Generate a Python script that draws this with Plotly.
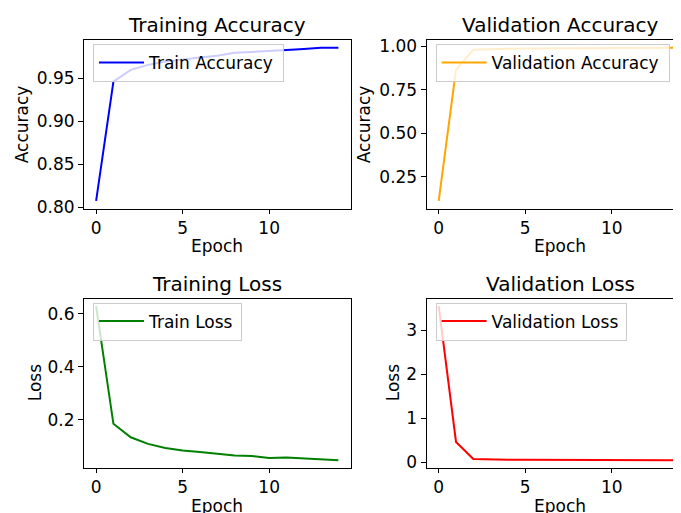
import plotly.graph_objects as go

epochs = list(range(15))
train_acc = [0.8077, 0.946, 0.9597, 0.9655, 0.9693, 0.972, 0.974, 0.976, 0.9797, 0.9805, 0.982, 0.9828, 0.984, 0.9854, 0.9855]
val_acc = [0.1126, 0.865, 0.979, 0.984, 0.985, 0.986, 0.987, 0.988, 0.988, 0.989, 0.989, 0.990, 0.990, 0.991, 0.991]
train_loss = [0.628, 0.185, 0.1343, 0.1094, 0.0943, 0.0842, 0.0792, 0.0728, 0.0653, 0.064, 0.0566, 0.0577, 0.054, 0.0502, 0.0476]
val_loss = [3.545, 0.463, 0.075, 0.062, 0.058, 0.056, 0.055, 0.053, 0.052, 0.052, 0.050, 0.049, 0.048, 0.047, 0.046]

titles = ["Training Accuracy", "Validation Accuracy", "Training Loss", "Validation Loss"]
legend_names = ["Train Accuracy", "Validation Accuracy", "Train Loss", "Validation Loss"]
ylabels = ["Accuracy", "Accuracy", "Loss", "Loss"]
colors = ["blue", "orange", "green", "red"]
xtick_vals = [0, 5, 10]
ytick_vals = [[0.80, 0.85, 0.90, 0.95], [0.25, 0.50, 0.75, 1.00], [0.2, 0.4, 0.6], [0, 1, 2, 3]]
ytick_fmt = [".2f", ".2f", ".1f", "d"]

PAGE_W, PAGE_H = 681, 513
OFF = 8  # default body margin of the html page
W, H = PAGE_W - OFF, PAGE_H - OFF
FONT = "DejaVu Sans"
TICK = 17
TITLE = 20

# pixel geometry (page coords) of the panels (left, right, top, bottom, centre)
panels = [
    (84.0, 350.5, 40.0, 208.5, 217.0),
    (426.6, 681.0, 40.0, 208.5, 560.0),
    (84.0, 350.5, 298.5, 468.0, 217.0),
    (426.6, 681.0, 298.5, 468.0, 560.0),
]
legend_w = [190, 233, 148, 190]
ylabel_x = [22, 364, 35, 393]
px_per_epoch = (350.5 - 84.0) / 15.4

def px(x):
    return (x - OFF) / W

def py(y):
    return 1 - (y - OFF) / H

series = [train_acc, val_acc, train_loss, val_loss]

fig = go.Figure()
annotations = []
layout = dict(
    width=W, height=H, margin=dict(l=0, r=0, t=0, b=0, autoexpand=False),
    paper_bgcolor="white", plot_bgcolor="white",
    font=dict(family=FONT, size=TICK, color="black"),
    showlegend=True,
)

for i, (vals, name, color) in enumerate(zip(series, legend_names, colors)):
    ax = "" if i == 0 else str(i + 1)
    lg = "legend" if i == 0 else f"legend{i + 1}"
    fig.add_trace(go.Scatter(
        x=epochs, y=vals, mode="lines", name=name,
        line=dict(color=color, width=2),
        xaxis="x" + ax, yaxis="y" + ax, legend=lg,
    ))
    l, r, t, b, cx = panels[i]
    lo, hi = min(vals), max(vals)
    m = (hi - lo) * 0.05
    xmin = -0.7
    xmax = xmin + (r - l) / px_per_epoch
    layout["xaxis" + ax] = dict(
        domain=[px(l), px(r)], anchor="y" + ax, range=[xmin, xmax],
        tickvals=xtick_vals, ticks="outside", ticklen=4, tickwidth=1,
        tickcolor="black", showline=True, linecolor="black", linewidth=1,
        mirror=True, showgrid=False, zeroline=False, automargin=False,
        tickfont=dict(family=FONT, size=TICK, color="black"),
    )
    layout["yaxis" + ax] = dict(
        domain=[py(b), py(t)], anchor="x" + ax, range=[lo - m, hi + m],
        tickvals=ytick_vals[i], tickformat=ytick_fmt[i], ticks="outside",
        ticklen=5, tickwidth=1, tickcolor="black", showline=True,
        linecolor="black", linewidth=1, mirror=(i % 2 == 0),
        showgrid=False, zeroline=False, automargin=False,
        tickfont=dict(family=FONT, size=TICK, color="black"),
    )
    layout[lg] = dict(
        x=px(l + 9), y=py(t + 4), xanchor="left", yanchor="top",
        orientation="h", entrywidth=legend_w[i] - 61, entrywidthmode="pixels",
        bgcolor="rgba(255,255,255,0.8)", bordercolor="#cccccc", borderwidth=1,
        itemwidth=45,
        font=dict(family=FONT, size=TICK, color="black"),
    )
    # subplot title
    annotations.append(dict(
        text=titles[i], xref="paper", yref="paper", x=px(cx), y=py(t - 15),
        xanchor="center", yanchor="middle", showarrow=False,
        font=dict(family=FONT, size=TITLE, color="black"),
    ))
    # x label
    annotations.append(dict(
        text="Epoch", xref="paper", yref="paper", x=px(cx), y=py(b + 37.5),
        xanchor="center", yanchor="middle", showarrow=False,
        font=dict(family=FONT, size=TICK, color="black"),
    ))
    # y label
    annotations.append(dict(
        text=ylabels[i], xref="paper", yref="paper", x=px(ylabel_x[i]),
        y=py((t + b) / 2), xanchor="center", yanchor="middle", textangle=-90,
        showarrow=False, font=dict(family=FONT, size=TICK, color="black"),
    ))

layout["annotations"] = annotations
fig.update_layout(**layout)
fig.write_html("out.html")
